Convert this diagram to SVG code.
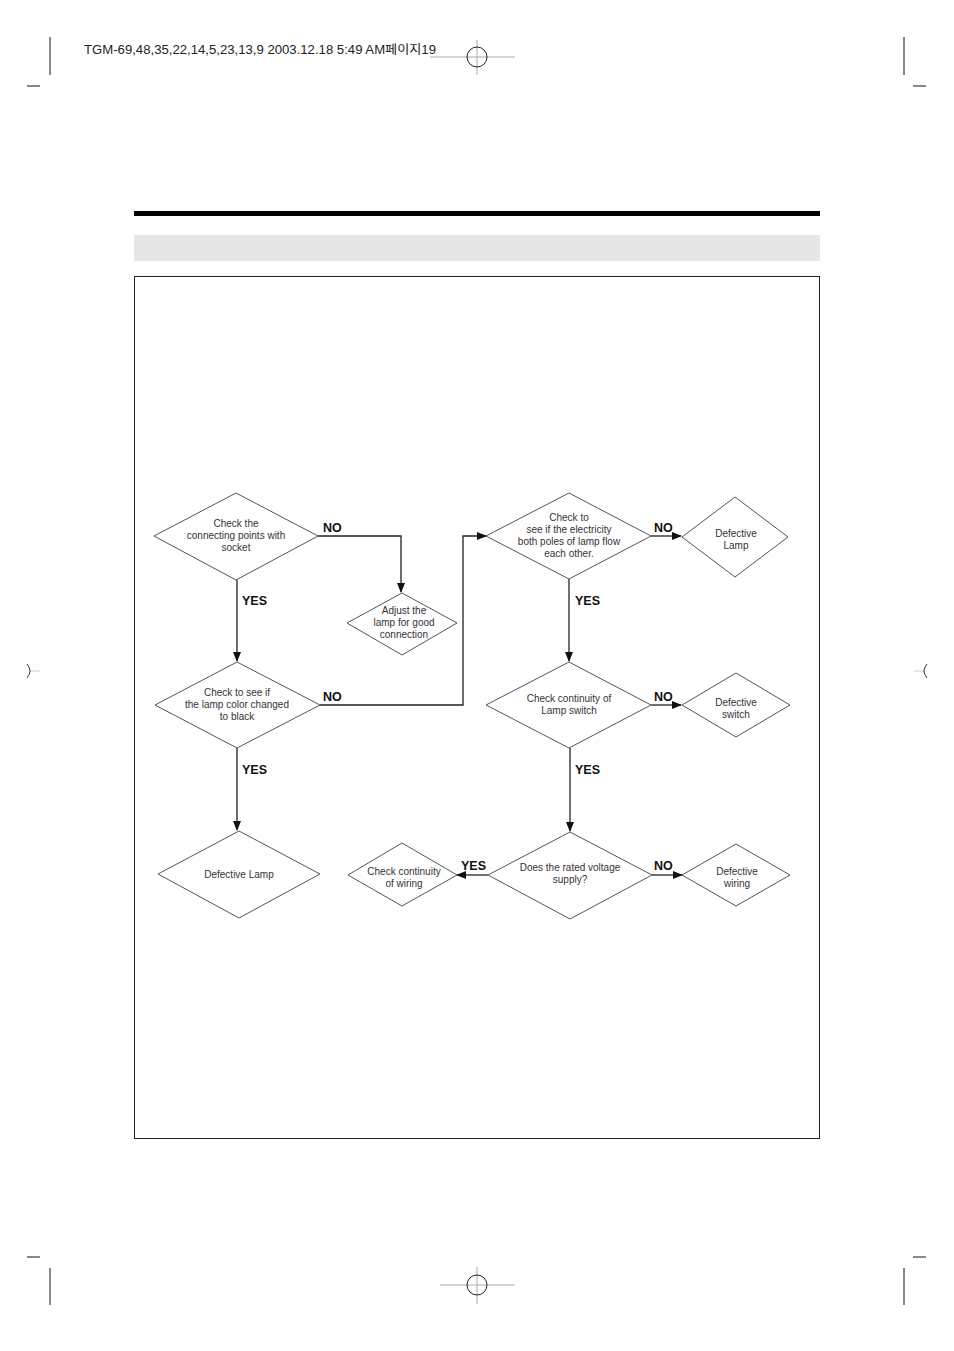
<svg xmlns="http://www.w3.org/2000/svg" width="954" height="1351" viewBox="0 0 954 1351">
<style>
.d{fill:#fff;stroke:#555;stroke-width:1}
.t{font-family:"Liberation Sans",Arial,sans-serif;font-size:10px;fill:#333;text-anchor:middle}
.l{font-family:"Liberation Sans",Arial,sans-serif;font-size:12.5px;font-weight:bold;fill:#111}
.c{fill:none;stroke:#222;stroke-width:1.3}
.crop{stroke:#111;stroke-width:1}
.reg{stroke:#aaa;stroke-width:1}
</style>
<defs>
<marker id="a" markerWidth="10" markerHeight="8" refX="9" refY="4" orient="auto" markerUnits="userSpaceOnUse">
<path d="M0,0 L10,4 L0,8 Z" fill="#111"/>
</marker>
</defs>
<rect width="954" height="1351" fill="#fff"/>
<g id="printmarks">
<line class="crop" x1="50" y1="37" x2="50" y2="75"/>
<line class="crop" x1="27" y1="86" x2="40" y2="86"/>
<line class="crop" x1="904" y1="37" x2="904" y2="75"/>
<line class="crop" x1="913" y1="86" x2="926" y2="86"/>
<line class="crop" x1="50" y1="1268" x2="50" y2="1305"/>
<line class="crop" x1="27" y1="1257" x2="40" y2="1257"/>
<line class="crop" x1="904" y1="1268" x2="904" y2="1305"/>
<line class="crop" x1="913" y1="1257" x2="926" y2="1257"/>
<line class="reg" x1="430" y1="57" x2="515" y2="57"/>
<line class="reg" x1="477" y1="40" x2="477" y2="75"/>
<circle cx="477" cy="57" r="10" fill="none" stroke="#222"/>
<line class="reg" x1="440" y1="1285" x2="515" y2="1285"/>
<line class="reg" x1="477" y1="1267" x2="477" y2="1304"/>
<circle cx="477" cy="1285" r="10" fill="none" stroke="#222"/>
<line stroke="#ccc" x1="30" y1="671" x2="40" y2="671"/>
<path d="M27,664 Q33,671 27,678" fill="none" stroke="#333"/>
<line stroke="#ccc" x1="914" y1="671" x2="925" y2="671"/>
<path d="M927,664 Q921,671 927,678" fill="none" stroke="#333"/>
<text x="84" y="54" font-family="'Liberation Sans','Noto Sans CJK KR',sans-serif" font-size="12" fill="#222" textLength="352" lengthAdjust="spacingAndGlyphs">TGM-69,48,35,22,14,5,23,13,9  2003.12.18 5:49 AM페이지19</text>
</g>
<g id="header">
<rect x="134" y="211" width="686" height="5" fill="#000"/>
<rect x="134" y="235" width="686" height="26" fill="#e6e6e6"/>
<rect x="134.5" y="276.5" width="685" height="862" fill="none" stroke="#222" stroke-width="1"/>
</g>
<g id="connectors">
<polyline class="c" points="318,536 401,536 401,592" marker-end="url(#a)"/>
<line class="c" x1="237" y1="580" x2="237" y2="661" marker-end="url(#a)"/>
<polyline class="c" points="320,705 463,705 463,536 486,536" marker-end="url(#a)"/>
<line class="c" x1="237" y1="748" x2="237" y2="830" marker-end="url(#a)"/>
<line class="c" x1="651" y1="536" x2="681" y2="536" marker-end="url(#a)"/>
<line class="c" x1="569" y1="579" x2="569" y2="661" marker-end="url(#a)"/>
<line class="c" x1="651" y1="705" x2="681" y2="705" marker-end="url(#a)"/>
<line class="c" x1="570" y1="748" x2="570" y2="831" marker-end="url(#a)"/>
<line class="c" x1="652" y1="875" x2="682" y2="875" marker-end="url(#a)"/>
<line class="c" x1="488" y1="875" x2="457" y2="875" marker-end="url(#a)"/>
<text class="l" x="323" y="532">NO</text>
<text class="l" x="242" y="605">YES</text>
<text class="l" x="323" y="701">NO</text>
<text class="l" x="242" y="774">YES</text>
<text class="l" x="654" y="532">NO</text>
<text class="l" x="575" y="605">YES</text>
<text class="l" x="654" y="701">NO</text>
<text class="l" x="575" y="774">YES</text>
<text class="l" x="654" y="870">NO</text>
<text class="l" x="461" y="870">YES</text>
</g>
<g id="n1">
<polygon class="d" points="236,493 318,536 236,580 154,536"/>
<text class="t" x="236" y="527">Check the</text>
<text class="t" x="236" y="539">connecting points with</text>
<text class="t" x="236" y="551">socket</text>
</g>
<g id="n2">
<polygon class="d" points="402,593 457,623 402,655 347,623"/>
<text class="t" x="404" y="614">Adjust the</text>
<text class="t" x="404" y="626">lamp for good</text>
<text class="t" x="404" y="638">connection</text>
</g>
<g id="n3">
<polygon class="d" points="237,662 320,705 237,748 155,705"/>
<text class="t" x="237" y="696">Check to see if</text>
<text class="t" x="237" y="708">the lamp color changed</text>
<text class="t" x="237" y="720">to black</text>
</g>
<g id="n4">
<polygon class="d" points="239,831 320,874 239,918 158,874"/>
<text class="t" x="239" y="878">Defective Lamp</text>
</g>
<g id="n5">
<polygon class="d" points="569,493 651,536 569,579 486,536"/>
<text class="t" x="569" y="521">Check to</text>
<text class="t" x="569" y="533">see if the electricity</text>
<text class="t" x="569" y="545">both poles of lamp flow</text>
<text class="t" x="569" y="557">each other.</text>
</g>
<g id="n6">
<polygon class="d" points="735,497 788,537 735,577 682,537"/>
<text class="t" x="736" y="537">Defective</text>
<text class="t" x="736" y="549">Lamp</text>
</g>
<g id="n7">
<polygon class="d" points="569,662 651,705 569,748 486,705"/>
<text class="t" x="569" y="702">Check continuity of</text>
<text class="t" x="569" y="714">Lamp switch</text>
</g>
<g id="n8">
<polygon class="d" points="736,673 790,705 736,737 682,705"/>
<text class="t" x="736" y="706">Defective</text>
<text class="t" x="736" y="718">switch</text>
</g>
<g id="n9">
<polygon class="d" points="570,832 652,875 570,919 488,875"/>
<text class="t" x="570" y="871">Does the rated voltage</text>
<text class="t" x="570" y="883">supply?</text>
</g>
<g id="n10">
<polygon class="d" points="736,844 790,875 736,906 682,875"/>
<text class="t" x="737" y="875">Defective</text>
<text class="t" x="737" y="887">wiring</text>
</g>
<g id="n11">
<polygon class="d" points="402,843 457,875 402,906 348,875"/>
<text class="t" x="404" y="875">Check continuity</text>
<text class="t" x="404" y="887">of wiring</text>
</g>
</svg>
